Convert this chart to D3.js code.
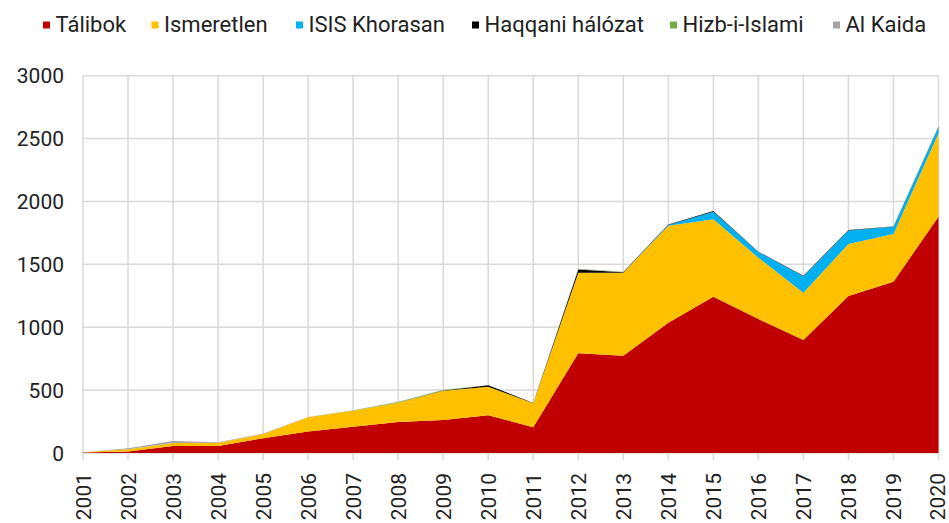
<!DOCTYPE html>
<html lang="hu">
<head>
    <meta charset="UTF-8">
    <title>Halálos áldozatok</title>
    <script src="https://d3js.org/d3.v7.min.js"></script>
    <style>
        body {
            margin: 0;
            padding: 0;
            background-color: #fff;
            font-family: Roboto, Arial, sans-serif;
        }

        #chart {
            display: block;
        }
    </style>
</head>
<body>
    <svg id="chart" width="949" height="523"></svg>

    <script>
        // adatok
        var years = [2001, 2002, 2003, 2004, 2005, 2006, 2007, 2008, 2009, 2010,
            2011, 2012, 2013, 2014, 2015, 2016, 2017, 2018, 2019, 2020];
        var seriesNames = ["Tálibok", "Ismeretlen", "ISIS Khorasan", "Haqqani hálózat", "Hizb-i-Islami", "Al Kaida"];
        var seriesColors = ["#C00000", "#FFC000", "#00B0F0", "#000000", "#70AD47", "#A5A5A5"];

        var talibok = [3, 12, 55, 55, 117, 170, 209, 246, 262, 300, 204, 793, 774, 1036, 1243, 1065, 898, 1248, 1362, 1879];
        var ismeretlen = [2, 18, 25, 27, 34, 114, 127, 154, 233, 227, 191, 641, 660, 771, 615, 488, 377, 414, 379, 663];
        var isis = [0, 0, 0, 0, 0, 0, 0, 0, 0, 0, 0, 0, 0, 6, 61, 45, 130, 108, 57, 48];
        var haqqani = [0, 0, 0, 0, 0, 0, 0, 0, 2, 11, 3, 25, 4, 4, 5, 3, 5, 3, 3, 5];
        var hizb = [0, 0, 0, 0, 0, 0, 2, 5, 3, 0, 0, 4, 2, 0, 0, 0, 0, 0, 0, 0];
        var alKaida = [0, 8, 15, 3, 4, 2, 2, 2, 2, 1, 2, 2, 2, 1, 1, 1, 1, 1, 1, 1];

        var yTicks = [0, 500, 1000, 1500, 2000, 2500, 3000];

        var allSeries = [talibok, ismeretlen, isis, haqqani, hizb, alKaida];

        // táblázat a stackhez
        var table = years.map(function (y, i) {
            var row = { year: y };
            seriesNames.forEach(function (name, k) {
                row[name] = allSeries[k][i];
            });
            return row;
        });

        var svg = d3.select("#chart");

        var x = d3.scaleLinear()
            .domain([2001, 2020])
            .range([83, 938.5]);

        var y = d3.scaleLinear()
            .domain([0, 3000])
            .range([453, 75.7]);

        // rács
        svg.append("g")
            .selectAll("line")
            .data(yTicks)
            .enter().append("line")
            .attr("x1", x(2001))
            .attr("x2", x(2020))
            .attr("y1", function (d) { return y(d); })
            .attr("y2", function (d) { return y(d); })
            .attr("stroke", "#d9d9d9")
            .attr("stroke-width", 1.5);

        svg.append("g")
            .selectAll("line")
            .data(years)
            .enter().append("line")
            .attr("x1", function (d) { return x(d); })
            .attr("x2", function (d) { return x(d); })
            .attr("y1", y(3000))
            .attr("y2", 460)
            .attr("stroke", "#d9d9d9")
            .attr("stroke-width", 1.5);

        // területek
        var stack = d3.stack().keys(seriesNames);
        var layers = stack(table);

        var area = d3.area()
            .x(function (d) { return x(d.data.year); })
            .y0(function (d) { return y(d[0]); })
            .y1(function (d) { return y(d[1]); });

        svg.append("g")
            .selectAll("path")
            .data(layers)
            .enter().append("path")
            .attr("d", area)
            .attr("fill", function (d, i) { return seriesColors[i]; });

        // y tengely feliratok
        svg.append("g")
            .selectAll("text")
            .data(yTicks)
            .enter().append("text")
            .attr("x", 64)
            .attr("y", function (d) { return y(d); })
            .attr("dy", "0.36em")
            .attr("text-anchor", "end")
            .attr("font-size", 21)
            .attr("fill", "#222")
            .text(function (d) { return d; });

        // x tengely feliratok (elforgatva)
        svg.append("g")
            .selectAll("text")
            .data(years)
            .enter().append("text")
            .attr("transform", function (d) {
                return "translate(" + Math.min(x(d), 937.5) + ",473) rotate(-90)";
            })
            .attr("dy", "0.36em")
            .attr("text-anchor", "end")
            .attr("font-size", 21)
            .attr("fill", "#222")
            .text(function (d) { return d; });

        // jelmagyarázat
        var legendX = [43, 151.5, 296, 472, 670, 833];
        var legend = svg.append("g")
            .selectAll("g")
            .data(seriesNames)
            .enter().append("g")
            .attr("transform", function (d, i) { return "translate(" + legendX[i] + ",0)"; });

        legend.append("rect")
            .attr("x", 0)
            .attr("y", 21.5)
            .attr("width", 7)
            .attr("height", 7)
            .attr("fill", function (d, i) { return seriesColors[i]; });

        legend.append("text")
            .attr("x", 12.5)
            .attr("y", 31.5)
            .attr("font-size", 22)
            .attr("fill", "#222")
            .text(function (d) { return d; });
    </script>
</body>
</html>
